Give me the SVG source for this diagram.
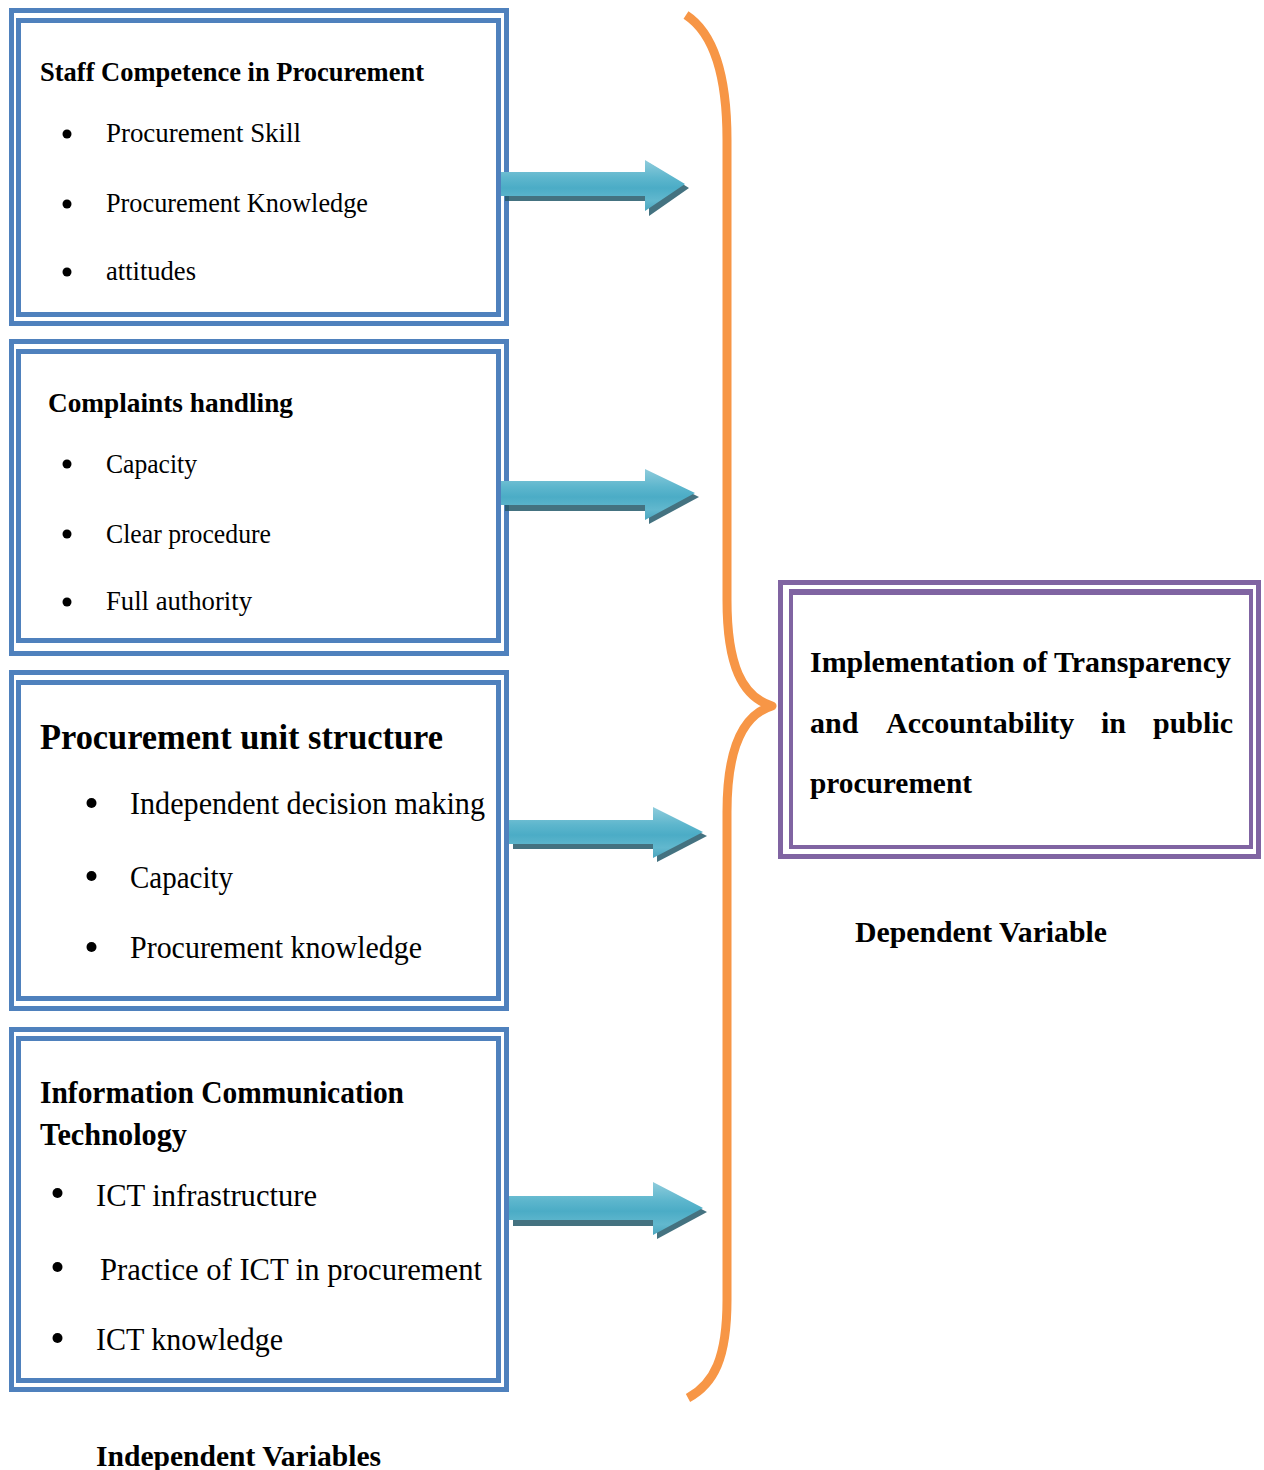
<svg xmlns="http://www.w3.org/2000/svg" width="1264" height="1470" viewBox="0 0 1264 1470">
<style>
.bg{fill:#ffffff}
.bo{fill:none;stroke:#4F81BD;stroke-width:5}
.bi{fill:none;stroke:#4F81BD;stroke-width:5}
.po{fill:none;stroke:#8064A2;stroke-width:5}
.pi{fill:none;stroke:#8064A2;stroke-width:4}
.t{font-family:"Liberation Serif","Times New Roman",serif;fill:#000000}
.b{font-weight:bold}
.s28{font-size:28px}
.s30{font-size:30px}
.s31{font-size:31px}
.s32{font-size:32px}
.s35{font-size:35px}
.dot{fill:#000000}
.arr{fill:url(#ag)}
.sh{fill:#23596A;opacity:0.85}
.brace{fill:none;stroke:#F79646;stroke-width:9;stroke-linecap:butt;stroke-linejoin:round}
</style>
<defs>
<linearGradient id="ag" x1="0" y1="0" x2="0" y2="1">
<stop offset="0" stop-color="#8FCCDC"/>
<stop offset="0.35" stop-color="#5DB6CD"/>
<stop offset="0.55" stop-color="#4BACC6"/>
<stop offset="0.8" stop-color="#62B8CE"/>
<stop offset="1" stop-color="#4BA6BF"/>
</linearGradient>
</defs>
<rect class="bg" x="0" y="0" width="1264" height="1470"/>

<g id="staff-competence">
<rect class="bo" x="11.5" y="10.5" width="495" height="313"/>
<rect class="bi" x="18.5" y="20.5" width="480" height="294"/>
<text class="t b s28" x="40" y="81" textLength="384" lengthAdjust="spacingAndGlyphs">Staff Competence in Procurement</text>
<circle class="dot" cx="67" cy="134" r="4.5"/>
<circle class="dot" cx="67" cy="204" r="4.5"/>
<circle class="dot" cx="67" cy="272" r="4.5"/>
<text class="t s28" x="106" y="142" textLength="195" lengthAdjust="spacingAndGlyphs">Procurement  Skill</text>
<text class="t s28" x="106" y="212" textLength="262" lengthAdjust="spacingAndGlyphs">Procurement  Knowledge</text>
<text class="t s28" x="106" y="280" textLength="90" lengthAdjust="spacingAndGlyphs">attitudes</text>
</g>

<g id="complaints-handling">
<rect class="bo" x="11.5" y="341.5" width="495" height="312"/>
<rect class="bi" x="18.5" y="351.5" width="480" height="289"/>
<text class="t b s28" x="48" y="412" textLength="245" lengthAdjust="spacingAndGlyphs">Complaints handling</text>
<circle class="dot" cx="67" cy="464" r="4.5"/>
<circle class="dot" cx="67" cy="534" r="4.5"/>
<circle class="dot" cx="67" cy="602" r="4.5"/>
<text class="t s28" x="106" y="473" textLength="91" lengthAdjust="spacingAndGlyphs">Capacity</text>
<text class="t s28" x="106" y="543" textLength="165" lengthAdjust="spacingAndGlyphs">Clear procedure</text>
<text class="t s28" x="106" y="610" textLength="146" lengthAdjust="spacingAndGlyphs">Full authority</text>
</g>

<g id="procurement-unit">
<rect class="bo" x="11.5" y="672.5" width="495" height="336"/>
<rect class="bi" x="18.5" y="682.5" width="480" height="316"/>
<text class="t b s35" x="40" y="749" textLength="403" lengthAdjust="spacingAndGlyphs">Procurement unit structure</text>
<circle class="dot" cx="91.5" cy="803" r="5"/>
<circle class="dot" cx="91.5" cy="876" r="5"/>
<circle class="dot" cx="91.5" cy="947" r="5"/>
<text class="t s32" x="130" y="814" textLength="355" lengthAdjust="spacingAndGlyphs">Independent decision making</text>
<text class="t s32" x="130" y="888" textLength="103" lengthAdjust="spacingAndGlyphs">Capacity</text>
<text class="t s32" x="130" y="958" textLength="292" lengthAdjust="spacingAndGlyphs">Procurement knowledge</text>
</g>

<g id="ict">
<rect class="bo" x="11.5" y="1029.5" width="495" height="360"/>
<rect class="bi" x="18.5" y="1038.5" width="480" height="342"/>
<text class="t b s32" x="40" y="1103" textLength="364" lengthAdjust="spacingAndGlyphs">Information Communication</text>
<text class="t b s32" x="40" y="1145" textLength="147" lengthAdjust="spacingAndGlyphs">Technology</text>
<circle class="dot" cx="57.5" cy="1193" r="5"/>
<circle class="dot" cx="57.5" cy="1267" r="5"/>
<circle class="dot" cx="57.5" cy="1338" r="5"/>
<text class="t s31" x="96" y="1206" textLength="221" lengthAdjust="spacingAndGlyphs">ICT infrastructure</text>
<text class="t s31" x="100" y="1280" textLength="382" lengthAdjust="spacingAndGlyphs">Practice of ICT in procurement</text>
<text class="t s31" x="96" y="1350" textLength="187" lengthAdjust="spacingAndGlyphs">ICT knowledge</text>
</g>

<g id="dependent">
<rect class="po" x="780.5" y="582.5" width="478" height="274"/>
<rect class="pi" x="791" y="592" width="460" height="255"/>
<line x1="789" y1="592" x2="1253" y2="592" stroke="#8064A2" stroke-width="6"/>
<text class="t b s30" x="810" y="672" textLength="421" lengthAdjust="spacingAndGlyphs">Implementation of Transparency</text>
<text class="t b s30" y="733"><tspan x="810">and</tspan> <tspan x="886">Accountability</tspan> <tspan x="1101">in</tspan> <tspan x="1153">public</tspan></text>
<text class="t b s30" x="810" y="793" textLength="162" lengthAdjust="spacingAndGlyphs">procurement</text>
</g>

<g id="labels">
<text class="t b s30" x="855" y="942" textLength="252" lengthAdjust="spacingAndGlyphs">Dependent Variable</text>
<text class="t b s30" x="96" y="1466" textLength="285" lengthAdjust="spacingAndGlyphs">Independent Variables</text>
</g>

<g id="connectors">
<polygon class="sh" points="505,189 649,189 649,163 689,188 649,216 649,201 505,201"/>
<polygon class="arr" points="501,172 645,172 645,160 685,184 645,211 645,196 501,196"/>

<polygon class="sh" points="505,498 649,498 649,472 699,497 649,524 649,511 505,511"/>
<polygon class="arr" points="501,481 645,481 645,469 695,493 645,520 645,505 501,505"/>

<polygon class="sh" points="513,837 657,837 657,811 707,836 657,862 657,849 513,849"/>
<polygon class="arr" points="509,820 653,820 653,807 703,832 653,858 653,844 509,844"/>

<polygon class="sh" points="513,1213 657,1213 657,1186 707,1212 657,1239 657,1226 513,1226"/>
<polygon class="arr" points="509,1196 653,1196 653,1182 703,1208 653,1235 653,1220 509,1220"/>

<path class="brace" d="M686,15 C712,32 727,72 727,140 L727,600 C727,665 742,697 772,706 C742,715 727,750 727,812 L727,1300 C727,1358 714,1384 688,1398"/>
</g>
</svg>
